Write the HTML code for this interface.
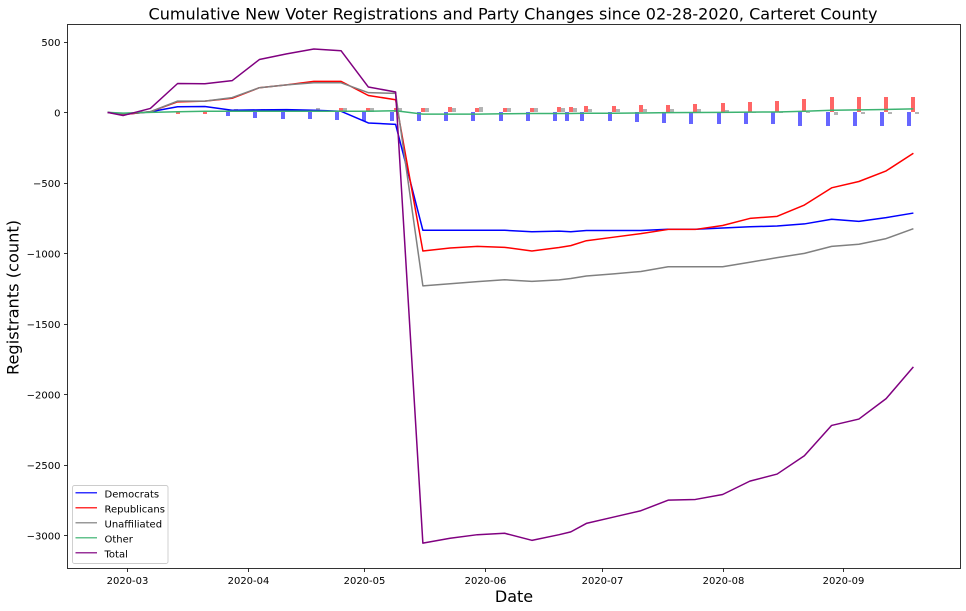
<!DOCTYPE html>
<html>
<head>
<meta charset="utf-8">
<style>
html,body{margin:0;padding:0;background:#fff;width:966px;height:611px;overflow:hidden}
svg{display:block}
text{font-family:"DejaVu Sans",sans-serif;fill:#000}
.tick{font-size:10px;fill:#000}
</style>
</head>
<body>
<svg id="chart" width="966" height="611" viewBox="0 0 966 611" xmlns="http://www.w3.org/2000/svg">
  <rect width="966" height="611" fill="#fff"/>
  <text x="513" y="19.5" font-size="16.05" text-anchor="middle">Cumulative New Voter Registrations and Party Changes since 02-28-2020, Carteret County</text>
  <g id="bars"></g>
  <g id="lines"></g>
  <g id="axes"></g>
  <text x="514" y="602" font-size="16" text-anchor="middle">Date</text>
  <text x="0" y="0" font-size="16.2" text-anchor="middle" transform="translate(18.5 297.5) rotate(-90)">Registrants (count)</text>
  <g id="legend"></g>
</svg>
<script>
const dates = ["2020-02-25","2020-02-29","2020-03-07","2020-03-14","2020-03-21","2020-03-28","2020-04-04","2020-04-11","2020-04-18","2020-04-25","2020-05-02","2020-05-09","2020-05-16","2020-05-23","2020-05-30","2020-06-06","2020-06-13","2020-06-20","2020-06-23","2020-06-27","2020-07-04","2020-07-11","2020-07-18","2020-07-25","2020-08-01","2020-08-08","2020-08-15","2020-08-22","2020-08-29","2020-09-05","2020-09-12","2020-09-19"];
const democrats = [0,-15,5,40,42,15,18,20,15,8,-75,-85,-836,-836,-836,-836,-846,-842,-846,-838,-838,-838,-829,-829,-820,-811,-806,-791,-758,-773,-746,-714];
const republicans = [0,-15,5,75,80,100,175,195,220,220,120,90,-983,-962,-950,-957,-983,-958,-945,-910,-885,-860,-830,-830,-802,-752,-737,-657,-535,-490,-415,-290];
const unaffiliated = [0,-10,5,80,80,105,175,195,210,210,140,135,-1230,-1215,-1200,-1187,-1198,-1188,-1178,-1160,-1145,-1128,-1095,-1095,-1095,-1063,-1030,-1000,-950,-935,-895,-825];
const other = [0,-5,0,5,8,8,8,8,8,8,8,12,-12,-12,-12,-10,-8,-8,-8,-6,-6,-4,-2,-1,0,2,3,8,15,18,21,25];
const total = [0,-22,28,205,203,225,375,415,450,437,180,145,-3055,-3020,-2995,-2985,-3035,-2995,-2975,-2915,-2870,-2825,-2750,-2745,-2710,-2615,-2565,-2435,-2220,-2175,-2030,-1805];
const demBars = [0,0,0,0,0,-28,-40,-46,-46,-55,-60,-60,-60,-60,-60,-60,-60,-60,-60,-60,-60,-68,-75,-82,-82,-82,-82,-95,-95,-95,-95,-95];
const repBars = [0,0,0,-8,-8,0,0,0,0,30,30,30,30,38,30,30,30,38,38,45,45,52,52,60,67,74,81,95,109,109,109,109];
const unaBars = [0,0,0,0,0,25,25,25,30,30,30,30,30,30,38,30,30,30,30,23,23,23,23,23,15,5,5,5,-18,-10,-10,-10];
const yTicks = [500,0,-500,-1000,-1500,-2000,-2500,-3000];
const xTicks = ["2020-03-01","2020-04-01","2020-05-01","2020-06-01","2020-07-01","2020-08-01","2020-09-01"];
const xTickLabels = ["2020-03","2020-04","2020-05","2020-06","2020-07","2020-08","2020-09"];
const legendLabels = ["Democrats","Republicans","Unaffiliated","Other","Total"];

const NS = "http://www.w3.org/2000/svg";
const seriesValues = [democrats, republicans, unaffiliated, other, total];
const seriesColors = ["#0000ff","#ff0000","#808080","#3cb371","#800080"];
const seriesNames = ["democrats","republicans","unaffiliated","other","total"];
const DAY = 86400000;
const origin = Date.UTC(2020,2,1);
function dayOf(s){const p=s.split("-");return (Date.UTC(+p[0],+p[1]-1,+p[2])-origin)/DAY;}
function xScale(d){return 127+3.893*d;}
function yScale(v){return 112.4-0.141*v;}
function make(tag,attrs,parent){const e=document.createElementNS(NS,tag);for(const k in attrs)e.setAttribute(k,attrs[k]);parent.appendChild(e);return e;}

const barsG=document.getElementById("bars");
const barSets=[[demBars,-1,"#6666ff","democrats"],[repBars,0,"#ff6666","republicans"],[unaBars,1,"#b3b3b3","unaffiliated"]];
barSets.forEach(function(set){
  dates.forEach(function(dt,i){
    const v=set[0][i];
    if(!v)return;
    const d=dayOf(dt);
    const x0=Math.round(xScale(d)-2)+set[1]*4;
    const y0=Math.round(yScale(Math.max(v,0))),y1=Math.round(yScale(Math.min(v,0)));
    const r=make("rect",{x:x0,y:y0,width:4,height:Math.max(y1-y0,1),fill:set[2]},barsG);
    
    
  });
});

const linesG=document.getElementById("lines");
seriesValues.forEach(function(vals,s){
  const pts=vals.map(function(v,i){return xScale(dayOf(dates[i])).toFixed(2)+","+yScale(v).toFixed(2);}).join(" ");
  const l=make("polyline",{points:pts,fill:"none",stroke:seriesColors[s],"stroke-width":1.5,"stroke-linejoin":"round"},linesG);
  
  
  l.setAttribute('aria-label', seriesNames[s]);
});

const axesG=document.getElementById("axes");
const L=67.5,R=960.5,T=24.5,B=568.5;
const frame=make("rect",{x:L,y:T,width:R-L,height:B-T,fill:"none",stroke:"#000","stroke-width":0.8},axesG);


yTicks.forEach(function(v){
  const y=Math.round(yScale(v))+0.5;
  const t=make("line",{x1:L-3.5,x2:L,y1:y,y2:y,stroke:"#000","stroke-width":0.8},axesG);
  
  
  const lb=make("text",{x:L-7,y:yScale(v)+4.1,"text-anchor":"end",class:"tick"},axesG);
  
  
  lb.textContent=String(v).replace("-","\u2212");
});
xTicks.forEach(function(dt,i){
  const x=Math.round(xScale(dayOf(dt)))+0.5;
  const t=make("line",{x1:x,x2:x,y1:B,y2:B+3.5,stroke:"#000","stroke-width":0.8},axesG);
  
  
  const lb=make("text",{x:x,y:B+15.5,"text-anchor":"middle",class:"tick"},axesG);
  
  
  lb.textContent=xTickLabels[i];
});

const legG=document.getElementById("legend");
const box=make("rect",{x:72.5,y:485.5,width:95.5,height:78,rx:2,ry:2,fill:"#fff","fill-opacity":0.8,stroke:"#cccccc","stroke-width":0.9},legG);


legendLabels.forEach(function(name,i){
  const y=492.7+15*i;
  const ln=make("line",{x1:75.5,x2:97,y1:y,y2:y,stroke:seriesColors[i],"stroke-width":1.5,"stroke-opacity":0.8},legG);
  
  
  const tx=make("text",{x:104.5,y:y+5,"font-size":10,fill:"#000"},legG);
  
  
  tx.textContent=name;
});
</script>
</body>
</html>
